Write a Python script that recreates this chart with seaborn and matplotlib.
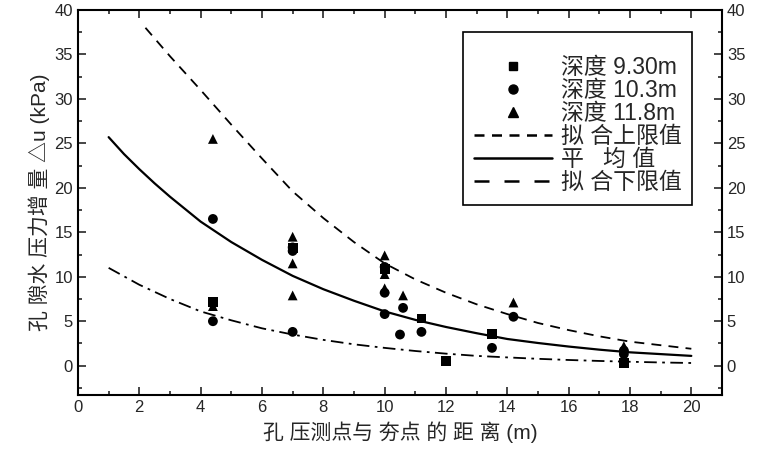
import numpy as np
import pandas as pd
import seaborn as sns
import matplotlib.pyplot as plt
from matplotlib.lines import Line2D
from matplotlib.ticker import MultipleLocator

# measured points (distance m, excess pore pressure kPa)
x_930 = [4.4, 7.0, 10.0, 11.2, 12.0, 13.5, 17.8]
y_930 = [7.2, 13.2, 10.9, 5.3, 0.5, 3.6, 0.3]
x_103 = [4.4, 4.4, 7.0, 7.0, 7.0, 10.0, 10.0, 10.0, 10.5, 10.6, 11.2, 13.5, 14.2, 17.8, 17.8]
y_103 = [16.5, 5.0, 13.3, 12.9, 3.8, 11.1, 8.2, 5.8, 3.5, 6.5, 3.8, 2.0, 5.5, 1.3, 1.7]
x_118 = [4.4, 4.4, 7.0, 7.0, 7.0, 10.0, 10.0, 10.0, 10.6, 14.2, 17.8]
y_118 = [25.5, 6.7, 14.5, 11.5, 7.9, 12.4, 10.3, 8.7, 7.9, 7.1, 2.2]

# fitted curves
x_upper = [2.2, 3, 4, 5, 6, 7, 8, 9, 10, 11, 12, 13, 14, 15, 16, 17, 18, 19, 20]
y_upper = [38.0, 34.8, 31.0, 27.1, 23.3, 19.6, 16.6, 13.9, 11.5, 9.7, 8.2, 6.9, 5.8, 4.8, 4.0, 3.3, 2.7, 2.3, 1.9]
x_mean = [1, 1.5, 2, 2.5, 3, 3.5, 4, 5, 6, 7, 8, 9, 10, 11, 12, 13, 14, 15, 16, 17, 18, 19, 20]
y_mean = [25.7, 23.8, 22.1, 20.5, 19.0, 17.6, 16.2, 13.9, 11.9, 10.1, 8.6, 7.3, 6.1, 5.15, 4.35, 3.65, 3.0, 2.55, 2.15, 1.8, 1.5, 1.3, 1.1]
x_lower = [1, 2, 3, 4, 5, 6, 7, 8, 9, 10, 11, 12, 13, 14, 15, 16, 17, 18, 19, 20]
y_lower = [11.0, 9.1, 7.5, 6.1, 5.1, 4.2, 3.5, 2.9, 2.4, 2.0, 1.65, 1.35, 1.1, 0.93, 0.77, 0.64, 0.53, 0.44, 0.36, 0.3]

depth_labels = ['深度 9.30m', '深度 10.3m', '深度 11.8m']
line_labels = ['拟 合上限值', '平   均 值', '拟 合下限值']

pts = pd.DataFrame({
    'x': x_930 + x_103 + x_118,
    'y': y_930 + y_103 + y_118,
    'depth': [depth_labels[0]] * len(x_930) + [depth_labels[1]] * len(x_103) + [depth_labels[2]] * len(x_118),
})

sns.set_style('ticks')
plt.rcParams['font.family'] = ['Liberation Sans', 'Noto Sans CJK SC', 'DejaVu Sans']

fig = plt.figure(figsize=(7.6, 4.5), dpi=100)
ax = fig.add_axes([0.1026, 0.1222, 0.8474, 0.8556])

sns.lineplot(x=x_upper, y=y_upper, ax=ax, color='black', lw=1.3, linestyle=(0, (5.5, 4)), sort=False)
sns.lineplot(x=x_mean, y=y_mean, ax=ax, color='black', lw=1.6, sort=False)
sns.lineplot(x=x_lower, y=y_lower, ax=ax, color='black', lw=1.3, linestyle=(0, (7, 3, 1.5, 3)), sort=False)

sns.scatterplot(data=pts, x='x', y='y', style='depth', ax=ax,
                markers={depth_labels[0]: 's', depth_labels[1]: 'o', depth_labels[2]: '^'},
                color='black', edgecolor='black', linewidth=0, s=50, legend=False, zorder=3)

ax.set_xlim(0, 21)
ax.set_ylim(-3.3, 40)
ax.xaxis.set_major_locator(MultipleLocator(2))
ax.xaxis.set_minor_locator(MultipleLocator(1))
ax.yaxis.set_major_locator(MultipleLocator(5))
ax.yaxis.set_minor_locator(MultipleLocator(2.5))
ax.tick_params(which='both', direction='in', top=True, right=True, labelright=True, width=1.2)
ax.tick_params(which='major', length=6, labelsize=12)
ax.tick_params(which='minor', length=3)
for s in ax.spines.values():
    s.set_linewidth(1.5)
    s.set_color('black')

ax.set_xlabel('孔 压测点与 夯点 的 距 离 (m)', fontsize=15, labelpad=5)
ax.set_ylabel('孔 隙水 压力增 量 △u (kPa)', fontsize=15, labelpad=3)

# legend
handles = [
    Line2D([], [], ls='none', marker='s', color='black', ms=6),
    Line2D([], [], ls='none', marker='o', color='black', ms=6.5),
    Line2D([], [], ls='none', marker='^', color='black', ms=7),
    Line2D([], [], color='black', lw=1.8, linestyle=(0, (4, 3))),
    Line2D([], [], color='black', lw=1.8),
    Line2D([], [], color='black', lw=1.8, linestyle=(0, (6, 6))),
]
leg = ax.legend(handles, depth_labels + line_labels, loc='upper right',
                bbox_to_anchor=(0.953, 0.943), borderaxespad=0, fontsize=16.5,
                frameon=True, fancybox=False, edgecolor='black', framealpha=1,
                handlelength=3.4, handletextpad=0.4, labelspacing=0.0,
                title=' ', title_fontsize=11, borderpad=0.45)
leg.get_frame().set_linewidth(1.2)

fig.savefig('out.png', dpi=100)
